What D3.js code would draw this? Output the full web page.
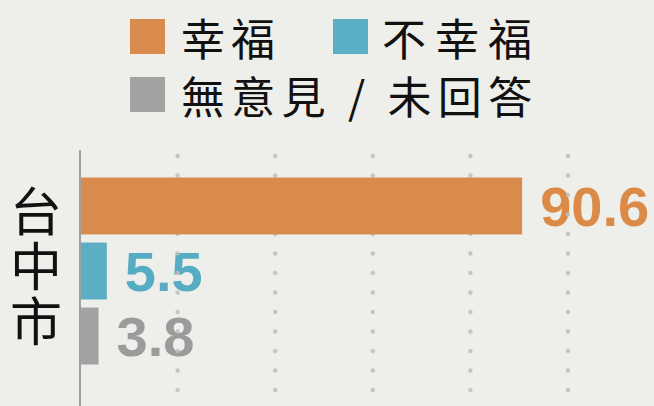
<!DOCTYPE html>
<html>
<head>
<meta charset="utf-8">
<script src="https://cdn.jsdelivr.net/npm/d3@7"></script>
<style>
  html, body { margin:0; padding:0; background:#eeeeea; }
  svg { display:block; }
</style>
</head>
<body>
<div id="chart"></div>
<script>
// data
var category = "台中市";
var series = ["幸福", "不幸福", "無意見 / 未回答"];
var values = [90.6, 5.5, 3.8];
var gridTicks = [20, 40, 60, 80, 100];
var colors = ["#d98b4e", "#5aafc5", "#a2a2a2"];
var labelColors = ["#db8a47", "#56adc3", "#9b9b9b"];

var W = 654, H = 406;
var svg = d3.select("#chart").append("svg").attr("width", W).attr("height", H);
svg.append("rect").attr("width", W).attr("height", H).attr("fill", "#eeeeea");

var x = d3.scaleLinear().domain([0, 100]).range([80, 568]);
var y = d3.scaleBand().domain(series).range([177.5, 364.5]).paddingInner(0.125);

//legend -- two rows, third entry wraps under the first
var legendPos = [{x:130, y:19, tx:181, tw:94}, {x:333, y:19, tx:382, tw:150}, {x:130, y:77, tx:181, tw:351}];
var legend = svg.append("g");
series.forEach(function(s, i){
  var p = legendPos[i];
  legend.append("rect").attr("x", p.x).attr("y", p.y).attr("width", 35).attr("height", 35).attr("fill", colors[i]);
  legend.append("text")
    .attr("x", p.tx).attr("y", p.y + 18)
    .attr("dominant-baseline", "central")
    .attr("font-family", "'Noto Sans CJK TC', 'Noto Sans CJK SC', sans-serif")
    .attr("font-size", 44)
    .attr("fill", "#111")
    .attr("textLength", p.tw).attr("lengthAdjust", "spacing")
    .text(s);
});

//category label, set vertically
svg.append("text")
  .attr("x", 36)
  .attr("y", 185)
  .attr("writing-mode", "vertical-rl")
  .attr("letter-spacing", 3)
  .attr("font-family", "'Noto Sans CJK TC', 'Noto Sans CJK SC', sans-serif")
  .attr("font-size", 52)
  .attr("fill", "#111")
  .text(category);

//value labels (under the dotted grid, as in the original)
svg.append("g").selectAll("text").data(values).enter().append("text")
  .attr("x", function(d){ return x(d) + 18; })
  .attr("y", function(d, i){ return y(series[i]) + y.bandwidth() / 2 + 20; })
  .attr("font-family", "'Liberation Sans', Arial, sans-serif")
  .attr("font-weight", "bold")
  .attr("font-size", 56)
  .attr("fill", function(d, i){ return labelColors[i]; })
  .text(function(d){ return d3.format(".1f")(d); });

//dotted grid
svg.append("g").selectAll("line").data(gridTicks).enter().append("line")
  .attr("x1", function(d){ return x(d); }).attr("x2", function(d){ return x(d); })
  .attr("y1", 156).attr("y2", 400)
  .attr("stroke", "#bdbdbd").attr("stroke-opacity", 0.85)
  .attr("stroke-width", 4.5)
  .attr("stroke-linecap", "round")
  .attr("stroke-dasharray", "0,19.5");

//bars
svg.append("g").selectAll("rect").data(values).enter().append("rect")
  .attr("x", x(0) + 1)
  .attr("y", function(d, i){ return y(series[i]); })
  .attr("width", function(d){ return x(d) - x(0) - 1; })
  .attr("height", y.bandwidth())
  .attr("fill", function(d, i){ return colors[i]; });

//axis line
svg.append("line")
  .attr("x1", x(0)).attr("x2", x(0))
  .attr("y1", 150).attr("y2", H)
  .attr("stroke", "#a0a0a0").attr("stroke-width", 2);
</script>
</body>
</html>
